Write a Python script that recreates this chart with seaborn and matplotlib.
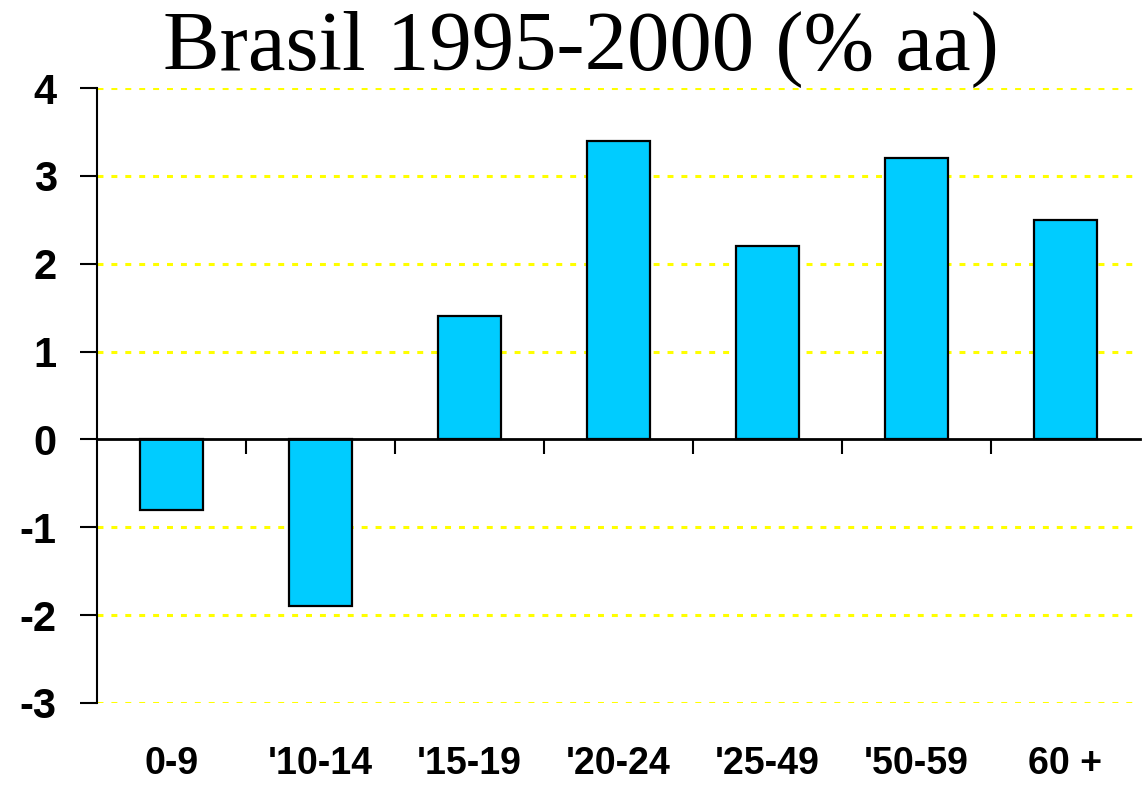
import matplotlib
matplotlib.use("Agg")
import matplotlib.pyplot as plt
import matplotlib.transforms as mtransforms
import seaborn as sns
import numpy as np
import pandas as pd

# Data
age_groups = ["0-9", "'10-14", "'15-19", "'20-24", "'25-49", "'50-59", "60 +"]
growth = [-0.8, -1.9, 1.4, 3.4, 2.2, 3.2, 2.5]
y_ticks = [-3, -2, -1, 0, 1, 2, 3, 4]

sns.set_style("white")
plt.rcParams["font.family"] = ["Liberation Sans", "DejaVu Sans"]
plt.rcParams["axes.unicode_minus"] = False
plt.rcParams["text.color"] = "black"
plt.rcParams["xtick.color"] = "black"
plt.rcParams["ytick.color"] = "black"
plt.rcParams["xtick.labelcolor"] = "black"
plt.rcParams["ytick.labelcolor"] = "black"

df = pd.DataFrame({"group": age_groups, "growth": growth})

fig = plt.figure(figsize=(11.42, 7.87), dpi=100)
ax = fig.add_axes([97 / 1142, 1 - 703 / 787, 1043 / 1142, 615 / 787])

sns.barplot(data=df, x="group", y="growth", color="#00CCFF", saturation=1,
            edgecolor="black", linewidth=1.6, width=0.42, ax=ax)

ax.set_xlim(-0.5, len(age_groups) - 0.5)
ax.set_ylim(-3, 4)

# dotted yellow gridlines
for t in y_ticks:
    if t != 0:
        ax.axhline(t, color="#FFFF00", lw=2.2, linestyle=(0, (1.95, 2.6)), zorder=0)

# spines
for s in ["top", "right"]:
    ax.spines[s].set_visible(False)
ax.spines["left"].set_linewidth(1.5)
ax.spines["left"].set_color("black")
ax.spines["bottom"].set_position(("data", 0))
ax.spines["bottom"].set_linewidth(2)
ax.spines["bottom"].set_color("black")

# y axis ticks
ax.set_yticks(y_ticks)
ax.set_yticklabels([str(t) for t in y_ticks], fontsize=30, fontweight="bold")
ax.tick_params(axis="y", direction="out", length=12, width=1.5, pad=17, left=True)

# x axis: ticks between categories, labels at the bottom
ax.set_xticks(np.arange(len(age_groups) - 1) + 0.5)
ax.set_xticklabels([])
ax.tick_params(axis="x", direction="out", length=11, width=1.5, bottom=True)
ax.set_xlabel("")
ax.set_ylabel("")

trans = mtransforms.blended_transform_factory(ax.transData, ax.transAxes)
for i, lab in enumerate(age_groups):
    ax.text(i, -0.10, lab, transform=trans, ha="center", va="center",
            fontsize=27, fontweight="bold", color="black")

fig.text(581 / 1142, 1 - 70 / 787, "Brasil 1995-2000 (% aa)", ha="center",
         va="baseline", fontsize=61, color="black",
         family=["Liberation Serif", "DejaVu Serif"])

fig.savefig("out.png", dpi=100)
